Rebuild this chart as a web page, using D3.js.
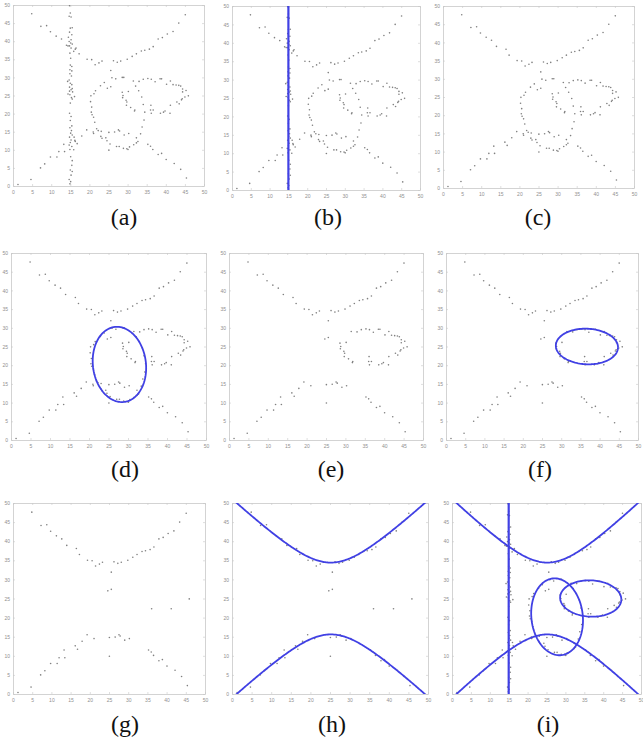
<!DOCTYPE html>
<html>
<head>
<meta charset="utf-8">
<script src="https://cdn.jsdelivr.net/npm/d3@7"></script>
<style>
  html, body { margin: 0; padding: 0; background: #fff; }
  svg { display: block; }
</style>
</head>
<body>
<svg id="fig" width="643" height="744"></svg>
<script>
// ---------------- data ----------------
// Points scattered along the vertical line x ≈ 15
const linePoints = [
  [14.8,49.8],[15.0,47.8],[14.7,46.9],[15.2,46.7],[15.0,43.6],[15.5,43.7],[14.8,42.5],[15.4,41.8],
  [14.5,41.1],[15.2,40.4],[14.7,39.9],[15.1,39.5],[15.5,39.2],[14.4,38.7],[14.8,38.7],[15.2,38.1],
  [16.3,37.8],[15.9,37.2],[14.9,36.7],[15.1,35.3],[15.0,33.4],[15.4,33.0],[14.9,32.1],[15.4,31.8],
  [14.9,31.0],[15.3,30.4],[14.7,29.3],[14.3,28.9],[15.0,28.4],[15.4,28.0],[14.8,27.3],[15.5,26.9],
  [15.2,26.6],[14.8,26.2],[15.6,26.0],[14.4,25.4],[14.9,25.2],[16.1,24.7],[15.3,24.4],[15.5,24.0],
  [15.0,22.9],[14.8,20.1],[15.2,19.2],[15.0,18.1],[15.4,16.6],[14.9,16.1],[15.3,15.3],[15.1,14.6],
  [15.5,14.1],[14.8,13.5],[16.0,13.5],[15.2,12.7],[16.3,12.3],[15.0,12.0],[14.7,11.3],[15.4,10.9],
  [14.9,10.1],[15.9,10.0],[15.1,8.1],[15.5,7.0],[15.4,5.7],[15.0,4.4],[15.5,4.0],[15.2,3.0],
  [14.7,1.8],[15.1,1.2],[14.9,0.6]
];

// Points around the tall (left) ellipse
const ellipse1Points = [
  [20.4,24.9],[20.3,23.3],[20.6,21.8],[20.5,20.4],[20.7,19.7],[21.1,19.0],[21.4,17.6],[21.9,15.8],
  [21.0,14.9],[22.3,15.3],[23.1,15.1],[23.0,13.7],[23.3,13.2],[24.3,13.3],[24.6,12.5],[25.4,11.6],
  [27.1,10.9],[27.8,10.9],[28.9,10.4],[29.8,10.3],[30.1,10.1],[30.5,10.8],[31.6,11.4],[32.3,11.9],
  [32.7,12.3],[32.3,13.3],[33.4,14.4],[33.8,16.3],[34.3,18.2],[34.5,20.4],[34.1,22.5],[33.7,24.6],
  [32.9,26.3],[32.1,27.6],[29.0,30.0],[28.6,30.0],[26.9,29.6],[25.9,29.9],[23.9,28.6],[22.9,27.7],
  [21.6,26.3],[21.2,25.5]
];

// Points around the wide (right) ellipse
const ellipse2Points = [
  [31.5,29.0],[33.0,28.9],[34.1,29.5],[35.3,29.7],[36.2,29.5],[37.2,28.8],[38.5,29.6],[38.9,29.6],
  [40.2,28.1],[41.2,29.0],[41.9,28.0],[42.7,27.9],[43.4,27.8],[43.9,27.6],[44.4,26.8],[45.3,26.4],
  [44.4,26.0],[45.0,24.6],[44.3,24.1],[44.1,23.8],[42.9,23.2],[43.5,22.7],[41.1,20.1],[39.8,20.7],
  [38.6,20.1],[39.4,20.4],[36.2,20.1],[36.0,21.0],[36.7,21.0],[31.9,21.0],[31.8,20.7],[30.8,21.7],
  [29.8,23.2],[29.6,23.7],[29.7,22.3],[28.8,25.0],[28.6,25.9],[30.2,26.1],[28.7,24.4]
];

// Points along the upper and lower hyperbola branches
const upperBranchPoints = [
  [4.9,47.6],[7.3,44.1],[8.8,44.3],[9.8,42.6],[11.3,41.4],[12.7,40.6],[14.0,38.9],[16.5,38.1],
  [17.3,36.5],[19.4,35.0],[20.6,34.9],[21.5,33.5],[22.5,34.0],[23.3,34.5],[26.3,34.6],[27.3,34.2],
  [28.2,34.5],[29.9,35.0],[31.2,35.8],[32.3,36.5],[33.6,37.3],[34.5,37.5],[35.7,37.8],[36.7,38.5],
  [38.0,40.6],[39.1,41.0],[40.4,42.0],[41.9,42.7],[43.4,45.0],[45.1,47.3]
];
const lowerBranchPoints = [
  [1.3,0.4],[4.7,1.8],[7.2,5.0],[8.3,6.1],[9.8,8.0],[11.5,8.0],[12.0,9.5],[13.3,11.5],
  [13.5,9.5],[16.2,12.6],[16.8,11.7],[18.0,13.8],[19.3,15.5],[21.1,14.5],[25.1,14.8],[26.6,14.9],
  [27.6,15.5],[27.9,15.2],[29.1,14.1],[30.3,14.5],[35.3,11.5],[36.0,11.0],[36.6,10.1],[38.0,8.7],
  [38.9,9.0],[40.1,7.3],[42.2,6.2],[43.9,4.6],[45.4,2.2]
];

// Stray points that belong to no model
const outlierPoints = [
  [25.6,31.9],[24.7,27.0],[25.6,27.4],[36.1,22.3],[41.2,22.3],[45.9,24.9],[25.1,9.9]
];

// Fitted models
const lineFitX = [15.0];                               // vertical line x = c
const ellipse1Fit = [27.8, 20.2, 6.8, 10.1, 6.6];       // cx, cy, rx, ry, tilt (deg)
const ellipse2Fit = [36.7, 25.0, 8.1, 4.75, 2.5];       // cx, cy, rx, ry, tilt (deg)
const hyperbolaFit = [25.2, 25.0, 9.74, 9.4];           // cx, cy, bx, ay

const tickValues = [0, 5, 10, 15, 20, 25, 30, 35, 40, 45, 50];
const panelLabels = ["(a)", "(b)", "(c)", "(d)", "(e)", "(f)", "(g)", "(h)", "(i)"];

// ---------------- layout ----------------
const pointSets = {
  line: linePoints, e1: ellipse1Points, e2: ellipse2Points,
  hyp: upperBranchPoints.concat(lowerBranchPoints), out: outlierPoints
};
const panels = [
  {box: [13, 5, 204, 186],   label: [124, 225], sets: ["line","e1","e2","hyp","out"], fits: []},
  {box: [232, 6, 420, 190],  label: [328, 225], sets: ["line","e1","e2","hyp","out"], fits: ["line"]},
  {box: [443, 6, 634, 188],  label: [538, 225], sets: ["e1","e2","hyp","out"], fits: []},
  {box: [11, 253, 206, 440], label: [125, 477], sets: ["e1","e2","hyp","out"], fits: ["e1"]},
  {box: [229, 253, 423, 440],label: [331, 477], sets: ["e2","hyp","out"], fits: []},
  {box: [446, 253, 638, 440],label: [540, 477], sets: ["e2","hyp","out"], fits: ["e2"]},
  {box: [13, 503, 205, 694], label: [125, 732], sets: ["hyp","out"], fits: []},
  {box: [232, 503, 428, 694],label: [332, 732], sets: ["hyp","out"], fits: ["hyp"]},
  {box: [452, 503, 641, 694],label: [548, 732], sets: ["line","e1","e2","hyp","out"], fits: ["line","e1","e2","hyp"]}
];

const BLUE = "#4040e4";
const svg = d3.select("#fig");

function ellipsePath(p, x, y) {
  const [cx, cy, rx, ry, deg] = p;
  const th = deg * Math.PI / 180;
  // the longer axis leans by th: tall ellipses lean left at the top, wide ones rise to the right
  const sign = ry > rx ? 1 : -1;
  const c = Math.cos(th), s = Math.sin(th) * sign;
  const pts = d3.range(0, 361, 3).map(d => {
    const t = d * Math.PI / 180;
    const u = rx * Math.cos(t), v = ry * Math.sin(t);
    return [cx + u * c - v * s, cy + u * s + v * c];
  });
  return d3.line().x(d => x(d[0])).y(d => y(d[1]))(pts);
}

panels.forEach((p, i) => {
  const [x0, y0, x1, y1] = p.box;
  const x = d3.scaleLinear().domain([0, 50]).range([x0, x1]);
  const y = d3.scaleLinear().domain([0, 50]).range([y1, y0]);
  const g = svg.append("g");

  const clipId = "clip" + i;
  g.append("clipPath").attr("id", clipId)
    .append("rect").attr("x", x0).attr("y", y0).attr("width", x1 - x0).attr("height", y1 - y0);

  // axes with inward ticks on all four sides
  const axStyle = sel => {
    sel.selectAll(".domain").attr("stroke", "#c8c8c8").attr("stroke-width", 0.8);
    sel.selectAll(".tick line").attr("stroke", "#c8c8c8").attr("stroke-width", 0.6);
    sel.selectAll(".tick text").attr("fill", "#909090").attr("font-size", 5)
      .attr("font-family", "'Liberation Sans', Arial, sans-serif");
  };
  g.append("g").attr("transform", `translate(0,${y1})`)
    .call(d3.axisBottom(x).tickValues(tickValues).tickSizeInner(-2).tickSizeOuter(0).tickPadding(4))
    .call(axStyle);
  g.append("g").attr("transform", `translate(0,${y0})`)
    .call(d3.axisTop(x).tickValues(tickValues).tickSizeInner(-2).tickSizeOuter(0).tickFormat(""))
    .call(axStyle);
  g.append("g").attr("transform", `translate(${x0},0)`)
    .call(d3.axisLeft(y).tickValues(tickValues).tickSizeInner(-2).tickSizeOuter(0).tickPadding(3))
    .call(axStyle);
  g.append("g").attr("transform", `translate(${x1},0)`)
    .call(d3.axisRight(y).tickValues(tickValues).tickSizeInner(-2).tickSizeOuter(0).tickFormat(""))
    .call(axStyle);

  // data points
  const pts = [].concat(...p.sets.map(k => pointSets[k]));
  g.append("g").selectAll("circle").data(pts).join("circle")
    .attr("cx", d => x(d[0])).attr("cy", d => y(d[1])).attr("r", 0.8)
    .attr("fill", "#6a6a6a").attr("fill-opacity", 0.85);

  // fitted models
  const fg = g.append("g").attr("clip-path", `url(#${clipId})`)
    .attr("fill", "none").attr("stroke", BLUE).attr("stroke-width", 1.8);
  if (p.fits.includes("line")) {
    fg.append("line").attr("x1", x(lineFitX[0])).attr("x2", x(lineFitX[0]))
      .attr("y1", y(0)).attr("y2", y(50)).attr("stroke-width", 2.2);
  }
  if (p.fits.includes("e1")) fg.append("path").attr("d", ellipsePath(ellipse1Fit, x, y));
  if (p.fits.includes("e2")) fg.append("path").attr("d", ellipsePath(ellipse2Fit, x, y));
  if (p.fits.includes("hyp")) {
    const [hx, hy, bx, ay] = hyperbolaFit;
    const xs = d3.range(-1, 51.01, 0.25);
    const branch = s => xs.map(v => [v, hy + s * ay * Math.sqrt(1 + ((v - hx) / bx) ** 2)]);
    const ln = d3.line().x(d => x(d[0])).y(d => y(d[1]));
    fg.append("path").attr("d", ln(branch(1)));
    fg.append("path").attr("d", ln(branch(-1)));
  }

  // panel caption
  svg.append("text").attr("x", p.label[0]).attr("y", p.label[1])
    .attr("text-anchor", "middle")
    .attr("font-family", "'Liberation Serif', 'Times New Roman', serif")
    .attr("font-size", 24).attr("fill", "#111").text(panelLabels[i]);
});
</script>
</body>
</html>
